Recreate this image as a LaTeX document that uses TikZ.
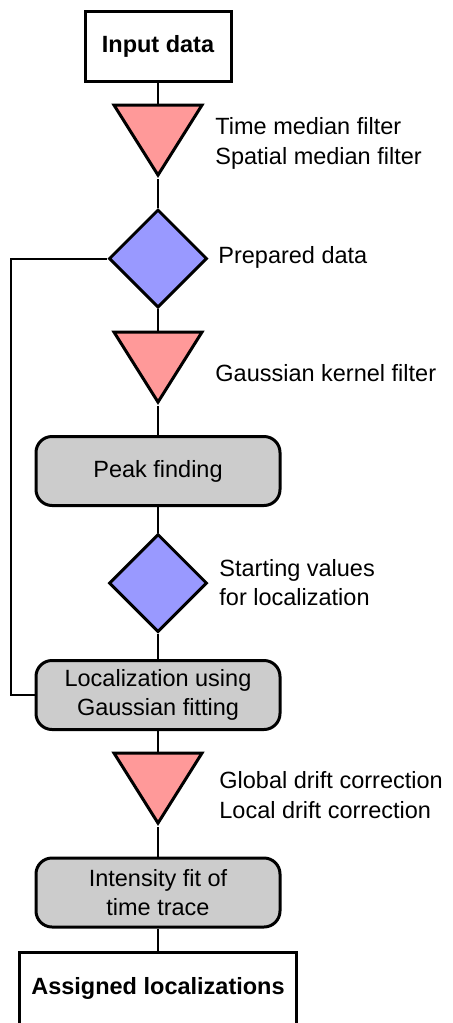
\documentclass[tikz,border=0pt]{standalone}
\usepackage{fontspec}
\setmainfont{Liberation Sans}
\usetikzlibrary{shapes.geometric, positioning}

\definecolor{pinkfill}{HTML}{FF9999}
\definecolor{bluefill}{HTML}{9999FF}
\definecolor{grayfill}{HTML}{CCCCCC}

\newcommand{\flowsize}{\fontsize{11.75}{14.75}\selectfont}

\tikzstyle{plain} = [rectangle, draw=black, line width=1.5pt, fill=white,
minimum width=73pt, minimum height=35pt, font=\flowsize\bfseries]
\tikzstyle{filt} = [isosceles triangle, isosceles triangle stretches,
shape border rotate=270, draw=black, line width=1.5pt, fill=pinkfill,
inner sep=0pt, minimum width=44pt, minimum height=35pt]
\tikzstyle{result} = [diamond, draw=black, line width=1.5pt, fill=bluefill,
inner sep=0pt, minimum width=49pt, minimum height=49pt]
\tikzstyle{cool} = [rectangle, rounded corners=8pt, draw=black, line width=1.5pt,
fill=grayfill, minimum width=122pt, minimum height=34.5pt, align=center, font=\flowsize]
\tikzstyle{note} = [anchor=west, align=left, inner sep=0pt, font=\flowsize]
\tikzstyle{line} = [line width=1pt, -]

\begin{document}
\begin{tikzpicture}[x=0.5pt, y=-0.5pt]

        \path[use as bounding box] (0,0) rectangle (452,1023);
        \clip (0,0) rectangle (452,1023);

        \node (IN) [plain] at (158,46.5) {Input data};

        \node (F1) [filt, anchor=apex] at (158,179) {};
        \node (D1) [result] at (158,258.5) {};
        \node (F2) [filt, anchor=apex] at (158,406) {};

        \node (PK) [cool] at (158,471) {Peak finding};
        \node (D2) [result] at (158,583) {};
        \node (LOC) [cool] at (158,695) {Localization using\\ Gaussian fitting};

        \node (F3) [filt, anchor=apex] at (158,827) {};
        \node (INT) [cool] at (158,892.5) {Intensity fit of\\ time trace};

        \node (OUT) [plain, minimum width=138.5pt, minimum height=36pt] at (158,988) {Assigned localizations};

        % side notes
        \node (N1) [note] at (215,143.5) {Time median filter\\ Spatial median filter};
        \node (N2) [note] at (218,257) {Prepared data};
        \node (N3) [note] at (215,373) {Gaussian kernel filter};
        \node (N4) [note] at (219,582.5) {Starting values\\ for localization};
        \node (N5) [note] at (219,795) {Global drift correction\\ Local drift correction};

        \draw [line] (IN) -- (F1);
        \draw [line] (F1) -- (D1);
        \draw [line] (D1) -- (F2);
        \draw [line] (F2) -- (PK);
        \draw [line] (PK) -- (D2);
        \draw [line] (D2) -- (LOC);
        \draw [line] (LOC) -- (F3);
        \draw [line] (F3) -- (INT);
        \draw [line] (INT) -- (OUT);

        % feedback of the prepared data
        \coordinate (FB) at (11,258.5);
        \draw [line] (D1) -- (FB) |- (LOC);

\end{tikzpicture}
\end{document}
